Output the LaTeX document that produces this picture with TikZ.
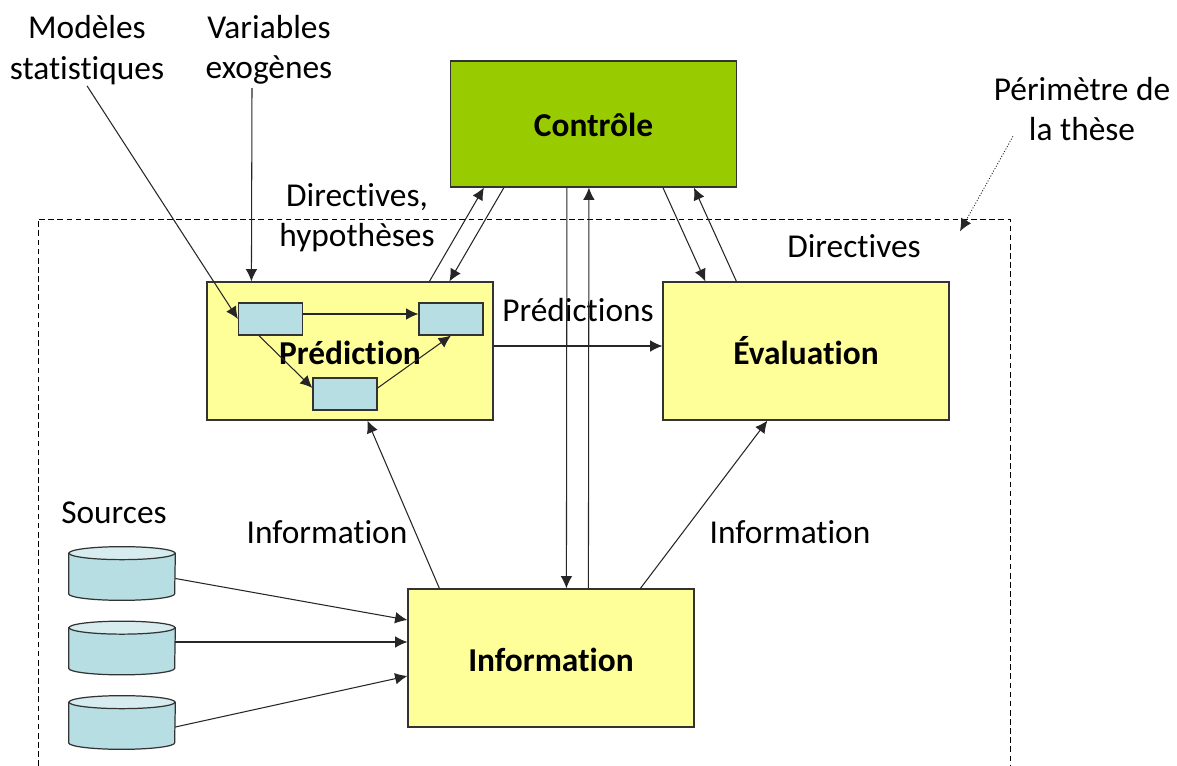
\documentclass[tikz,border=0pt]{standalone}
\usepackage{fontspec}
\setmainfont[RawFeature={-liga;-clig;-dlig;-calt;-rlig;-ccmp}]{Carlito}
\usetikzlibrary{arrows.meta,calc}
\definecolor{ctrlgreen}{HTML}{99CC00}
\definecolor{boxyellow}{HTML}{FFFF99}
\definecolor{stepblue}{HTML}{B7DEE3}
\definecolor{toplight}{HTML}{D6ECEF}
\definecolor{edgegray}{HTML}{333333}
\tikzset{
    lbl/.style={font=\fontsize{19}{23}\selectfont, align=center, inner sep=0pt},
    mainbox/.style={draw=edgegray, line width=0.7pt, fill=boxyellow, inner sep=0pt, minimum width=5.72cm,
        minimum height=2.76cm, text height=18pt, text depth=3pt, font=\fontsize{19}{23}\selectfont\bfseries},
    stepbox/.style={draw=edgegray, line width=0.7pt, fill=stepblue, inner sep=0pt, minimum width=1.28cm, minimum height=0.64cm},
    srcdb/.style={inner sep=0pt, minimum width=2.12cm, minimum height=1.06cm},
    dbedge/.style={draw=edgegray, line width=0.7pt},
    arr/.style={-{Latex[length=7pt,width=6.6pt]}, line width=0.6pt, draw=black!85},
}
\begin{document}
\begin{tikzpicture}[x=0.02cm, y=-0.02cm]
    \useasboundingbox (0, 0) rectangle (1177, 766);

    % perimetre
    \draw[dashed, dash pattern=on 3.2pt off 2pt, line width=0.55pt] (38, 766) -- (38, 219) -- (1010, 219) -- (1010, 766);

    %%%%%%%%%%%%%%%%%%%%%%%%%%%%%%%%%%%%%%%%%%%%%%%%%%%%%%

    \node[mainbox, fill=ctrlgreen, minimum height=2.52cm, text height=17pt](ctrl) at (593.5, 124) {Contrôle};
    \node[mainbox](pred) at (350, 351) {Prédiction};
    \node[mainbox](eval) at (806, 351) {Évaluation};
    \node[mainbox](info) at (551, 658) {Information};

    \node[stepbox](stepa) at (270.5, 319) {};
    \node[stepbox](stepb) at (451, 319) {};
    \node[stepbox](stepc) at (345, 394) {};

    \node[srcdb](srca) at (122, 573.5) {};
    \node[srcdb](srcb) at (122, 648) {};
    \node[srcdb](srcc) at (122, 722.5) {};

    \foreach \src in {srca, srcb, srcc} {
        \draw[dbedge, fill=stepblue] ($(\src.north west)+(0,6.5)$) -- ($(\src.south west)+(0,-6.5)$)
            arc[start angle=180, end angle=360, x radius=1.06cm, y radius=0.13cm] -- ($(\src.north east)+(0,6.5)$) -- cycle;
        \draw[dbedge, fill=toplight] ($(\src.north)+(0,6.5)$) ellipse[x radius=1.06cm, y radius=0.13cm];
    }

    %%%%%%%%%%%%%%%%%%%%%%%%%%%%%%%%%%%%%%%%%%%%%%%%%%%%%%

    \node[lbl](modeles) at (87, 50) {Modèles\\statistiques};
    \node[lbl](exog) at (269, 50) {Variables\\exogènes};
    \node[lbl](direc) at (357, 217.5) {Directives,\\hypothèses};
    \node[lbl](predic) at (578, 310) {Prédictions};
    \node[lbl](direv) at (854, 246) {Directives};
    \node[lbl](infoa) at (327, 532) {Information};
    \node[lbl](infob) at (790, 532) {Information};
    \node[lbl](sources) at (114, 513) {Sources};
    \node[lbl](perim) at (1082, 109) {Périmètre de\\la thèse};

    %%%%%%%%%%%%%%%%%%%%%%%%%%%%%%%%%%%%%%%%%%%%%%%%%%%%%%

    \draw[arr] ($(modeles.south)+(0,1)$) -- (stepa.west);
    \draw[arr] ($(exog.south)+(-17,3)$) -- ($(pred.north west)+(45,0)$);

    \draw[arr] ($(stepa.east)+(0,-5)$) -- ($(stepb.west)+(0,-5)$);
    \draw[arr] ($(stepa.south west)+(21,0)$) -- ($(stepc.west)+(0,-6)$);
    \draw[arr] ($(stepc.east)+(0,-6)$) -- (stepb.south);

    \draw[arr] ($(pred.north west)+(223,0)$) -- ($(ctrl.south west)+(34,0)$);
    \draw[arr] ($(ctrl.south west)+(54,0)$) -- ($(pred.north west)+(243,0)$);
    \draw[arr] ($(ctrl.south west)+(117,0)$) -- ($(info.north west)+(159,0)$);
    \draw[arr] ($(info.north west)+(181,0)$) -- ($(ctrl.south west)+(139,0)$);
    \draw[arr] ($(ctrl.south west)+(213,0)$) -- ($(eval.north west)+(43,0)$);
    \draw[arr] ($(eval.north west)+(74,0)$) -- ($(ctrl.south west)+(244,0)$);

    \draw[arr] ($(pred.east)+(0,-5)$) -- ($(eval.west)+(0,-5)$);
    \draw[arr] ($(info.north west)+(32,0)$) -- ($(pred.south west)+(161,0)$);
    \draw[arr] ($(info.north west)+(233,0)$) -- ($(eval.south west)+(105,0)$);

    \draw[arr] ($(srca.east)+(0,5)$) -- ($(info.west)+(0,-38)$);
    \draw[arr] ($(srcb.east)+(0,-6)$) -- ($(info.west)+(0,-16)$);
    \draw[arr] ($(srcc.east)+(0,4.5)$) -- ($(info.west)+(0,18)$);

    \draw[arr, densely dotted, line width=0.5pt] ($(perim.south)+(-69,-5)$) -- ($(perim.south)+(-122,90)$);
\end{tikzpicture}
\end{document}
